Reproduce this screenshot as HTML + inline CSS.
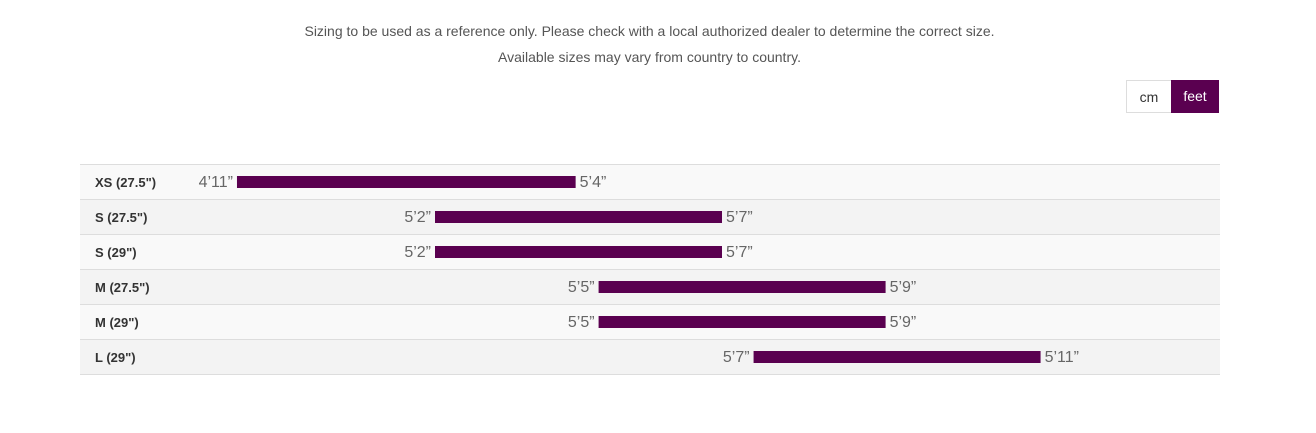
<!DOCTYPE html>
<html><head><meta charset="utf-8">
<style>
body{margin:0;width:1316px;height:433px;background:#fff;font-family:"Liberation Sans",Arial,sans-serif;position:relative;overflow:hidden}
.note{position:absolute;left:0;width:1299px;text-align:center;color:#555;font-size:14px}
.tog{position:absolute;top:80px;height:33px;line-height:33px;font-size:14px;text-align:center;box-sizing:border-box}
#chart{position:absolute;left:0;top:0}
</style></head><body>
<div class="note" style="top:23px">Sizing to be used as a reference only. Please check with a local authorized dealer to determine the correct size.</div>
<div class="note" style="top:49px">Available sizes may vary from country to country.</div>
<div class="tog" style="left:1126px;width:46px;border:1px solid #ddd;color:#333;background:#fff">cm</div>
<div class="tog" style="left:1171px;width:48px;background:#5a0050;color:#fff">feet</div>
<svg id="chart" width="1316" height="433"></svg>
<script>
const sizes=["XS (27.5\")","S (27.5\")","S (29\")","M (27.5\")","M (29\")","L (29\")"];
const minH=[151.1,158,158,163.7,163.7,169.1];
const maxH=[162.9,168,168,173.7,173.7,179.1];
const minLabels=["4’11”","5’2”","5’2”","5’5”","5’5”","5’7”"];
const maxLabels=["5’4”","5’7”","5’7”","5’9”","5’9”","5’11”"];
const NS="http://www.w3.org/2000/svg";
const svg=document.getElementById('chart');
const x=v=>-4099.6+v*28.7;
const rowY=i=>164+i*35;
function mk(t,a){const e=document.createElementNS(NS,t);for(const k in a)e.setAttribute(k,a[k]);svg.appendChild(e);return e;}
sizes.forEach((s,i)=>{
  const y=rowY(i);
  const r=mk('rect',{x:80,y:y,width:1140,height:35,fill:i%2?'#f3f3f3':'#f9f9f9'});
  
  
  const l=mk('line',{x1:80,x2:1220,y1:y+0.5,y2:y+0.5,stroke:'#ddd'});
  
  
  const t=mk('text',{x:95,y:y+23,'font-size':13,'font-weight':'bold',fill:'#333'});
  t.textContent=s;
  
  
  const b=mk('rect',{x:x(minH[i]),y:y+12,width:x(maxH[i])-x(minH[i]),height:12,fill:'#5a0050'});
  
  
  const a=mk('text',{x:x(minH[i])-4,y:y+23,'font-size':16,fill:'#666','text-anchor':'end'});
  a.textContent=minLabels[i];
  
  
  const c=mk('text',{x:x(maxH[i])+4,y:y+23,'font-size':16,fill:'#666'});
  c.textContent=maxLabels[i];
  
  
});
const bl=mk('line',{x1:80,x2:1220,y1:374.5,y2:374.5,stroke:'#ddd'});


</script>
</body></html>
